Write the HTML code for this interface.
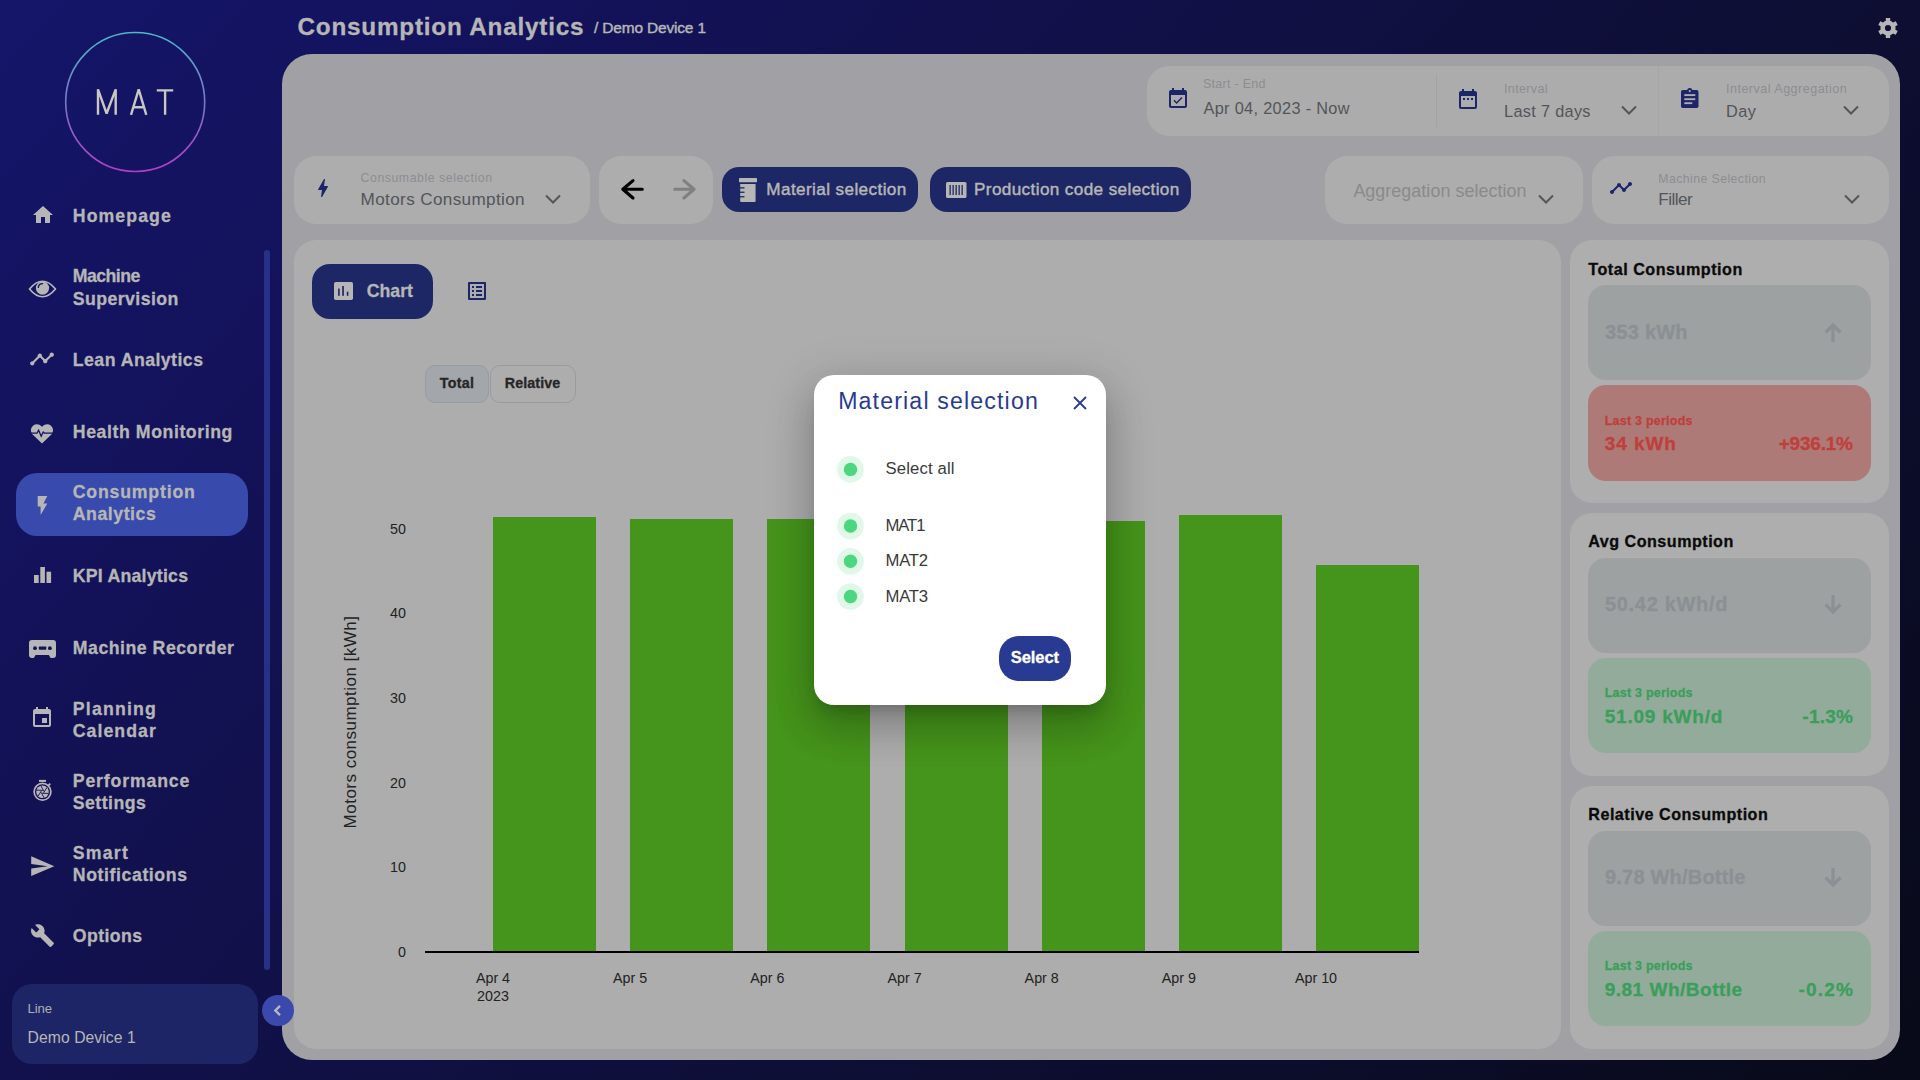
<!DOCTYPE html>
<html><head><meta charset="utf-8">
<style>
*{margin:0;padding:0;box-sizing:border-box}
html,body{width:1920px;height:1080px;overflow:hidden}
body{position:relative;font-family:"Liberation Sans",sans-serif;
 background:linear-gradient(131.7deg,#15156a 0%,#13125a 20%,#12114e 33%,#0d0e31 67%,#0b0c27 82%,#080a18 100%);}
.a{position:absolute}
.t{position:absolute;white-space:pre;line-height:1;font-family:"Liberation Sans",sans-serif}
svg{position:absolute;overflow:visible}
.box{position:absolute;background:#adadad;border-radius:22px}
.btn{position:absolute;background:#1e2765;border-radius:17px}
.card{position:absolute;background:#aeaeae;border-radius:22px}
.gbox{position:absolute;background:#9da1a2;border-radius:18px;left:1588px;width:283px;height:95px}
.rbox{position:absolute;background:#ad7a78;border-radius:18px;left:1588px;width:283px;height:96px}
.grbox{position:absolute;background:#93ab9b;border-radius:18px;left:1588px;width:283px;height:95px}
.bar{position:absolute;background:#45941b;width:103px;bottom:128px}
</style></head><body>

<!-- sidebar logo -->
<svg class="a" style="left:0;top:0" width="270" height="180">
 <defs><linearGradient id="lg" x1="0" y1="0" x2="0" y2="1">
  <stop offset="0" stop-color="#4cb8c8"/><stop offset="0.5" stop-color="#7a78c6"/><stop offset="1" stop-color="#b63cc6"/></linearGradient></defs>
 <circle cx="135.2" cy="102" r="69.5" fill="none" stroke="url(#lg)" stroke-width="1.6"/>
 <g fill="none" stroke="#c8c7c0" stroke-width="2.4" stroke-linejoin="bevel">
  <path d="M98 114.8V89.3L106.6 113.5L115.7 89.3V114.8"/>
  <path d="M131 114.8L138.7 89.3L146.3 114.8M134 107.2H143.5"/>
  <path d="M156.8 90.4H173.2M165.1 90.4V114.8"/>
 </g>
</svg>

<!-- active nav pill -->
<div class="a" style="left:16px;top:473px;width:232px;height:63px;border-radius:21px;background:#384aab"></div>
<!-- scrollbar -->
<div class="a" style="left:264px;top:250px;width:6px;height:720px;border-radius:3px;background:#283088"></div>

<!-- nav icons -->
<svg style="left:30.500px;top:202.500px" width="24" height="24" viewBox="0 0 24 24"><path fill="#b6b6b6" d="M10 20v-6h4v6h5v-8h3L12 3 2 12h3v8z"/></svg>
<svg style="left:24px;top:270px" width="40" height="40" viewBox="0 0 40 40"><path fill="none" stroke="#b6b6b6" stroke-width="1.700" stroke-linejoin="round" d="M5.500 19Q18.500 3.500 31.500 19Q18.500 34.500 5.500 19Z"/><circle cx="18.500" cy="18.100" r="6.600" fill="#b6b6b6"/><path fill="none" stroke="#13125c" stroke-width="1.400" stroke-linecap="round" d="M14.300 17.300A4.400 4.400 0 0 1 18.600 13.600"/></svg>
<svg style="left:29px;top:346px" width="26" height="26" viewBox="0 0 24 24"><path fill="#b6b6b6" d="M23 8c0 1.1-.9 2-2 2-.18 0-.35-.02-.51-.07l-3.560 3.550c.05.16.07.34.07.52 0 1.1-.9 2-2 2s-2-.9-2-2c0-.18.02-.36.07-.52l-2.550-2.550c-.16.05-.34.07-.52.07s-.36-.02-.52-.07l-4.550 4.560c.05.16.07.33.07.51 0 1.1-.9 2-2 2s-2-.9-2-2 .9-2 2-2c.18 0 .35.02.51.07l4.560-4.550C8.02 9.36 8 9.18 8 9c0-1.1.9-2 2-2s2 .9 2 2c0 .18-.02.36-.07.52l2.550 2.550c.16-.05.34-.07.52-.07s.36.02.52.07l3.550-3.560C19.02 8.350 19 8.180 19 8c0-1.1.9-2 2-2s2 .9 2 2z"/></svg>
<svg style="left:30px;top:421px" width="24" height="24" viewBox="0 0 24 24"><path fill="#b6b6b6" d="M12 22.5L2.6 13.4C0.2 11 0.5 6.6 3.3 4.5 5.8 2.6 9.400 3.100 12 5.800 14.600 3.100 18.200 2.600 20.700 4.500 23.500 6.600 23.800 11 21.400 13.400z"/><path fill="none" stroke="#13125c" stroke-width="1.3" d="M0.8 12.2h6.2l1.6-3 2.600 6 2-4.200 1.200 1.200h9"/></svg>
<svg style="left:30.500px;top:492.500px" width="23" height="25" viewBox="0 0 24 24"><path fill="#b6b6b6" d="M7 2v11h3v9l7-12h-4l4-8z"/></svg>
<svg style="left:0;top:0" width="60" height="600" viewBox="0 0 60 600"><rect x="34" y="575" width="4.700" height="8" fill="#b6b6b6"/><rect x="40.300" y="567" width="4.600" height="16" fill="#b6b6b6"/><rect x="46.500" y="571.700" width="4.600" height="11.300" fill="#b6b6b6"/></svg>
<svg style="left:29px;top:640px" width="27" height="18" viewBox="0 0 27 18"><path fill="#b6b6b6" d="M3 0h21a3 3 0 0 1 3 3v12a3 3 0 0 1-3 3h-2.400l-1.800-2.900H6.600l-1.800 2.900H3a3 3 0 0 1-3-3V3a3 3 0 0 1 3-3z"/><rect x="9.800" y="6.500" width="7.500" height="3.300" rx="0.800" fill="#13125c"/><circle cx="6" cy="8.200" r="1.900" fill="#13125c"/><circle cx="20.900" cy="8.200" r="1.900" fill="#13125c"/></svg>
<svg style="left:30px;top:706px" width="24" height="24" viewBox="0 0 24 24"><path fill="#b6b6b6" d="M17 12h-5v5h5v-5zM16 1v2H8V1H6v2H5c-1.110 0-1.990.9-1.990 2L3 19c0 1.1.89 2 2 2h14c1.1 0 2-.9 2-2V5c0-1.1-.9-2-2-2h-1V1h-2zm3 18H5V8h14v11z"/></svg>
<svg style="left:28px;top:774px" width="30" height="32" viewBox="0 0 30 32"><rect x="11" y="5.900" width="7" height="2" fill="#b6b6b6"/><circle cx="14.5" cy="17.8" r="8.400" fill="none" stroke="#b6b6b6" stroke-width="1.700"/><line x1="20.300" y1="11.600" x2="22.300" y2="9.600" stroke="#b6b6b6" stroke-width="1.800"/><circle cx="14.5" cy="17.8" r="6.300" fill="#b6b6b6"/><path d="M20.68 19.46L14.11 19.25M16.16 23.98L13.05 18.19M9.97 22.33L13.44 16.74M8.32 16.14L14.89 16.35M12.84 11.62L15.95 17.41M19.03 13.27L15.56 18.86" stroke="#13125c" stroke-width="0.9" fill="none"/></svg>
<svg style="left:28.800px;top:852.700px" width="26.400" height="26.400" viewBox="0 0 24 24"><path fill="#b6b6b6" d="M2.010 21L23 12 2.010 3 2 10l15 2-15 2z"/></svg>
<svg style="left:30px;top:923px" width="25" height="25" viewBox="0 0 24 24"><path fill="#b6b6b6" d="M22.700 19l-9.100-9.100c.9-2.300.4-5-1.500-6.900-2-2-5-2.400-7.400-1.300L9 6 6 9 1.600 4.700C.4 7.100.9 10.100 2.900 12.100c1.900 1.900 4.600 2.400 6.900 1.500l9.100 9.100c.4.4 1 .4 1.400 0l2.300-2.300c.5-.4.5-1.100.1-1.400z"/></svg>

<!-- line box -->
<div class="a" style="left:12px;top:984px;width:246px;height:80px;border-radius:20px;background:#1e2566"></div>


<!-- gear -->
<svg style="left:1876px;top:15.800px" width="24" height="24" viewBox="0 0 24 24"><g fill="#b6b6b6"><circle cx="12" cy="12" r="7.600"/><rect x="9.800" y="2" width="4.400" height="20" rx="0.6"/><rect x="9.800" y="2" width="4.400" height="20" rx="0.6" transform="rotate(60 12 12)"/><rect x="9.800" y="2" width="4.400" height="20" rx="0.6" transform="rotate(120 12 12)"/></g><circle cx="12" cy="12" r="3.100" fill="#0e1036"/></svg>

<!-- main panel -->
<div class="a" style="left:282px;top:54px;width:1618px;height:1006px;border-radius:30px;background:#a0a0a5"></div>

<div class="a" style="left:262px;top:995px;width:31.5px;height:31px;border-radius:50%;background:#3b49ad"></div>
<svg style="left:269.500px;top:1002px" width="16" height="17" viewBox="0 0 24 24"><path fill="none" stroke="#b8b8b8" stroke-width="3.600" d="M15 5l-7 7 7 7"/></svg>
<!-- date bar -->
<div class="box" style="left:1147px;top:66px;width:741.500px;height:69.500px;border-radius:22px;background:#acacac"></div>
<div class="a" style="left:1436px;top:74px;width:1px;height:53px;background:#a3a3a3"></div>
<div class="a" style="left:1658px;top:66px;width:1px;height:69.5px;background:#a5a5a5"></div>
<svg style="left:1166px;top:87px" width="24" height="24" viewBox="0 0 24 24"><path fill="#1c2567" d="M16.530 11.060L15.470 10l-4.880 4.880-2.120-2.120-1.060 1.060L10.590 17l5.940-5.940zM19 3h-1V1h-2v2H8V1H6v2H5c-1.110 0-1.990.9-1.990 2L3 19c0 1.1.89 2 2 2h14c1.1 0 2-.9 2-2V5c0-1.1-.9-2-2-2zm0 16H5V8h14v11z"/></svg>
<svg style="left:1455.500px;top:87px" width="24" height="24" viewBox="0 0 24 24"><path fill="#1c2567" d="M9 11H7v2h2v-2zm4 0h-2v2h2v-2zm4 0h-2v2h2v-2zm2-7h-1V2h-2v2H8V2H6v2H5c-1.110 0-1.990.9-1.990 2L3 20c0 1.1.89 2 2 2h14c1.1 0 2-.9 2-2V6c0-1.1-.9-2-2-2zm0 16H5V9h14v11z"/></svg>
<svg style="left:1680.700px;top:87.800px" width="17.500" height="20.200" viewBox="0 0 17.500 20.200"><rect x="0" y="1.900" width="17.500" height="18.200" rx="1.800" fill="#1c2567"/><circle cx="8.750" cy="2.600" r="2.600" fill="#1c2567"/><circle cx="8.750" cy="3.100" r="1.100" fill="#acacac"/><g fill="#acacac"><rect x="3.300" y="6.150" width="11" height="1.900"/><rect x="3.300" y="10.250" width="11" height="1.900"/><rect x="3.300" y="14.250" width="8" height="1.900"/></g></svg>
<svg style="left:1619px;top:102px" width="20" height="16" viewBox="0 0 20 16"><path fill="none" stroke="#555" stroke-width="2" d="M3 4.500l7 7 7-7"/></svg>
<svg style="left:1841px;top:102px" width="20" height="16" viewBox="0 0 20 16"><path fill="none" stroke="#555" stroke-width="2" d="M3 4.500l7 7 7-7"/></svg>

<!-- filter row -->
<div class="box" style="left:294px;top:156px;width:296px;height:68px"></div>
<svg style="left:311.200px;top:176.400px" width="24" height="24" viewBox="0 0 24 24"><path fill="#1c2567" d="M11 21h-1l1-7H7.500c-.58 0-.57-.32-.38-.66.19-.34.05-.08.07-.12C8.480 10.940 10.420 7.540 13 3h1l-1 7h3.500c.49 0 .56.33.47.51l-.07.15C12.960 17.550 11 21 11 21z"/></svg>
<svg style="left:543px;top:191px" width="20" height="16" viewBox="0 0 20 16"><path fill="none" stroke="#555" stroke-width="2" d="M3 4.500l7 7 7-7"/></svg>
<div class="box" style="left:599px;top:156px;width:114px;height:67.500px"></div>

<svg style="left:599px;top:156px" width="114" height="68" viewBox="0 0 114 68"><g fill="none" stroke-width="3.100" stroke-linecap="round" stroke-linejoin="round"><path stroke="#000" d="M43.300 33.300H24M34 24.600L23.800 33.300L34 42"/><path stroke="#808080" d="M75.800 33.300H95M84.900 24.600L95.100 33.300L84.900 42"/></g></svg>
<div class="btn" style="left:722px;top:167px;width:196px;height:45px"></div>
<svg style="left:739px;top:178px" width="18" height="24" viewBox="0 0 18 24"><rect x="0" y="0" width="18" height="4.200" rx="0.600" fill="#b6b6b6"/><path fill="#b6b6b6" d="M1.200 6H16.600V23a1 1 0 0 1-1 1H2.200a1 1 0 0 1-1-1z"/><g fill="#1e2765"><rect x="1" y="9.200" width="4.500" height="1.300"/><rect x="1" y="13.600" width="4.500" height="1.300"/><rect x="1" y="18.100" width="4.500" height="1.300"/></g></svg>
<div class="btn" style="left:930px;top:167px;width:261px;height:45px"></div>
<svg style="left:945.500px;top:182px" width="20.500" height="16" viewBox="0 0 20.500 16"><rect x="0" y="0" width="20.500" height="16" rx="1.500" fill="#b6b6b6"/><g fill="#1e2765"><rect x="3.500" y="3" width="1.300" height="10"/><rect x="6.500" y="3" width="1.300" height="10"/><rect x="9.500" y="3" width="1.300" height="10"/><rect x="12.500" y="3" width="1.300" height="10"/><rect x="15.500" y="3" width="1.300" height="10"/></g></svg>
<div class="box" style="left:1325px;top:156px;width:258px;height:68px"></div>
<svg style="left:1536px;top:191px" width="20" height="16" viewBox="0 0 20 16"><path fill="none" stroke="#555" stroke-width="2" d="M3 4.500l7 7 7-7"/></svg>
<div class="box" style="left:1592px;top:156px;width:297px;height:68px"></div>
<svg style="left:1609px;top:176px" width="24" height="24" viewBox="0 0 24 24"><path fill="#1c2567" d="M23 8c0 1.1-.9 2-2 2-.18 0-.35-.02-.51-.07l-3.560 3.550c.05.16.07.34.07.52 0 1.1-.9 2-2 2s-2-.9-2-2c0-.18.02-.36.07-.52l-2.550-2.550c-.16.05-.34.07-.52.07s-.36-.02-.52-.07l-4.550 4.560c.05.16.07.33.07.51 0 1.1-.9 2-2 2s-2-.9-2-2 .9-2 2-2c.18 0 .35.02.51.07l4.560-4.550C8.02 9.36 8 9.18 8 9c0-1.1.9-2 2-2s2 .9 2 2c0 .18-.02.36-.07.52l2.550 2.550c.16-.05.34-.07.52-.07s.36.02.52.07l3.550-3.560C19.02 8.350 19 8.180 19 8c0-1.1.9-2 2-2s2 .9 2 2z"/></svg>
<svg style="left:1842px;top:191px" width="20" height="16" viewBox="0 0 20 16"><path fill="none" stroke="#555" stroke-width="2" d="M3 4.500l7 7 7-7"/></svg>

<!-- chart card -->
<div class="box" style="left:294px;top:240px;width:1266.500px;height:808.500px"></div>
<div class="btn" style="left:312px;top:264px;width:121px;height:55px;border-radius:18px;background:#1e2765"></div>
<svg style="left:334px;top:282px" width="19" height="18" viewBox="0 0 19 18"><rect x="0" y="0" width="19" height="18" rx="1.800" fill="#b6b6b6"/><g fill="#1e2765"><rect x="4.100" y="6.600" width="1.600" height="7.200"/><rect x="8.200" y="4" width="1.700" height="9.800"/><rect x="12.800" y="9.700" width="1.600" height="4.100"/></g></svg>
<svg style="left:465px;top:279px" width="24" height="24" viewBox="0 0 24 24"><path fill="#1c2567" d="M19 5v14H5V5h14m1.1-2H3.9c-.5 0-.9.4-.9.9v16.2c0 .4.4.9.9.9h16.2c.4 0 .9-.5.9-.9V3.9c0-.5-.5-.9-.9-.9zM11 7h6v2h-6V7zm0 4h6v2h-6v-2zm0 4h6v2h-6zM7 7h2v2H7zm0 4h2v2H7zm0 4h2v2H7z"/></svg>
<div class="a" style="left:425px;top:365px;width:64px;height:38px;border-radius:10px;background:#a3a7ac;border:1px solid #979ba3"></div>
<div class="a" style="left:490px;top:365px;width:86px;height:38px;border-radius:10px;border:1px solid #999ba3"></div>

<!-- y axis label -->
<div class="t" style="left:350px;top:722px;transform:translate(-50%,-50%) rotate(-90deg);font-size:17px;color:#222;letter-spacing:0.48px">Motors consumption [kWh]</div>

<!-- bars -->
<div class="bar" style="left:493px;top:517px"></div>
<div class="bar" style="left:630.2px;top:519px"></div>
<div class="bar" style="left:767.3px;top:519.3px"></div>
<div class="bar" style="left:904.5px;top:520px"></div>
<div class="bar" style="left:1041.7px;top:521px"></div>
<div class="bar" style="left:1178.8px;top:515px"></div>
<div class="bar" style="left:1316px;top:564.5px"></div>
<div class="a" style="left:425px;top:951px;width:994px;height:2px;background:#000"></div>

<!-- right cards -->
<div class="card" style="left:1570px;top:240px;width:319px;height:262.500px"></div>
<div class="gbox" style="top:285px"></div>
<div class="rbox" style="top:385px"></div>
<div class="card" style="left:1570px;top:512.500px;width:319px;height:263px"></div>
<div class="gbox" style="top:557.500px"></div>
<div class="grbox" style="top:658px"></div>
<div class="card" style="left:1570px;top:785.500px;width:319px;height:263px"></div>
<div class="gbox" style="top:830.500px"></div>
<div class="grbox" style="top:931px"></div>
<svg style="left:1821px;top:320px" width="24" height="24" viewBox="0 0 24 24"><path fill="none" stroke="#8a9093" stroke-width="3.200" d="M12 22V5M4.500 12.500L12 5l7.500 7.500"/></svg>
<svg style="left:1821px;top:593px" width="24" height="24" viewBox="0 0 24 24"><path fill="none" stroke="#8a9093" stroke-width="3.200" d="M12 2v17M4.500 11.500L12 19l7.500-7.500"/></svg>
<svg style="left:1821px;top:866px" width="24" height="24" viewBox="0 0 24 24"><path fill="none" stroke="#8a9093" stroke-width="3.200" d="M12 2v17M4.500 11.500L12 19l7.500-7.500"/></svg>

<!-- modal -->
<div class="a" style="left:814px;top:375px;width:292px;height:330px;border-radius:20px;background:#fff;box-shadow:0 11px 15px -7px rgba(0,0,0,.2),0 24px 38px 3px rgba(0,0,0,.14),0 9px 46px 8px rgba(0,0,0,.12)"></div>
<svg style="left:1071px;top:394px" width="18" height="18" viewBox="0 0 18 18"><path stroke="#293a92" stroke-width="1.800" d="M3 3l12 12M15 3L3 15"/></svg>
<svg style="left:836px;top:455px" width="29" height="160" viewBox="0 0 29 160">
 <g><circle cx="14.500" cy="14.400" r="13.300" fill="#dff8e7"/><circle cx="14.500" cy="14.400" r="6.700" fill="#4cd680"/></g>
 <g transform="translate(0 71)"><circle cx="14.500" cy="0" r="13.300" fill="#dff8e7"/><circle cx="14.500" cy="0" r="6.700" fill="#4cd680"/></g>
 <g transform="translate(0 106.300)"><circle cx="14.500" cy="0" r="13.300" fill="#dff8e7"/><circle cx="14.500" cy="0" r="6.700" fill="#4cd680"/></g>
 <g transform="translate(0 141.500)"><circle cx="14.500" cy="0" r="13.300" fill="#dff8e7"/><circle cx="14.500" cy="0" r="6.700" fill="#4cd680"/></g>
</svg>
<div class="a" style="left:999px;top:636px;width:72px;height:45px;border-radius:20px;background:#293a92"></div>

<div class=t style="top:15.04px;font-size:24.29px;font-weight:700;color:#b6b6b6;letter-spacing:0.787px;-webkit-text-stroke:0.3px currentColor;left:297.50px;">Consumption Analytics</div>
<div class=t style="top:20.44px;font-size:15.43px;font-weight:400;color:#b6b6b6;letter-spacing:-0.143px;-webkit-text-stroke:0.45px currentColor;left:594.00px;">/ Demo Device 1</div>
<div class=t style="top:208.11px;font-size:17.71px;font-weight:700;color:#b6b6b6;letter-spacing:1.080px;-webkit-text-stroke:0.3px currentColor;left:72.80px;">Homepage</div>
<div class=t style="top:268.31px;font-size:17.71px;font-weight:700;color:#b6b6b6;letter-spacing:-0.547px;-webkit-text-stroke:0.3px currentColor;left:72.80px;">Machine</div>
<div class=t style="top:290.51px;font-size:17.71px;font-weight:700;color:#b6b6b6;letter-spacing:0.425px;-webkit-text-stroke:0.3px currentColor;left:72.80px;">Supervision</div>
<div class=t style="top:351.61px;font-size:17.71px;font-weight:700;color:#b6b6b6;letter-spacing:0.462px;-webkit-text-stroke:0.3px currentColor;left:72.80px;">Lean Analytics</div>
<div class=t style="top:423.61px;font-size:17.71px;font-weight:700;color:#b6b6b6;letter-spacing:0.579px;-webkit-text-stroke:0.3px currentColor;left:72.80px;">Health Monitoring</div>
<div class=t style="top:483.61px;font-size:17.71px;font-weight:700;color:#b6b6b6;letter-spacing:0.803px;-webkit-text-stroke:0.3px currentColor;left:72.80px;">Consumption</div>
<div class=t style="top:505.81px;font-size:17.71px;font-weight:700;color:#b6b6b6;letter-spacing:0.543px;-webkit-text-stroke:0.3px currentColor;left:72.80px;">Analytics</div>
<div class=t style="top:567.51px;font-size:17.71px;font-weight:700;color:#b6b6b6;letter-spacing:0.234px;-webkit-text-stroke:0.3px currentColor;left:72.80px;">KPI Analytics</div>
<div class=t style="top:640.11px;font-size:17.71px;font-weight:700;color:#b6b6b6;letter-spacing:0.517px;-webkit-text-stroke:0.3px currentColor;left:72.80px;">Machine Recorder</div>
<div class=t style="top:701.21px;font-size:17.71px;font-weight:700;color:#b6b6b6;letter-spacing:1.188px;-webkit-text-stroke:0.3px currentColor;left:72.80px;">Planning</div>
<div class=t style="top:723.41px;font-size:17.71px;font-weight:700;color:#b6b6b6;letter-spacing:1.042px;-webkit-text-stroke:0.3px currentColor;left:72.80px;">Calendar</div>
<div class=t style="top:772.61px;font-size:17.71px;font-weight:700;color:#b6b6b6;letter-spacing:0.836px;-webkit-text-stroke:0.3px currentColor;left:72.80px;">Performance</div>
<div class=t style="top:794.81px;font-size:17.71px;font-weight:700;color:#b6b6b6;letter-spacing:0.460px;-webkit-text-stroke:0.3px currentColor;left:72.80px;">Settings</div>
<div class=t style="top:844.81px;font-size:17.71px;font-weight:700;color:#b6b6b6;letter-spacing:1.215px;-webkit-text-stroke:0.3px currentColor;left:72.80px;">Smart</div>
<div class=t style="top:867.01px;font-size:17.71px;font-weight:700;color:#b6b6b6;letter-spacing:0.590px;-webkit-text-stroke:0.3px currentColor;left:72.80px;">Notifications</div>
<div class=t style="top:928.01px;font-size:17.71px;font-weight:700;color:#b6b6b6;letter-spacing:0.398px;-webkit-text-stroke:0.3px currentColor;left:72.80px;">Options</div>
<div class=t style="top:1002.08px;font-size:13.14px;font-weight:400;color:#b0b0b4;letter-spacing:-0.109px;left:27.50px;">Line</div>
<div class=t style="top:1030.30px;font-size:15.71px;font-weight:400;color:#b6b6b8;letter-spacing:0.078px;left:27.50px;">Demo Device 1</div>
<div class=t style="top:78.26px;font-size:12.57px;font-weight:400;color:#8c8d92;letter-spacing:0.245px;left:1203.00px;">Start - End</div>
<div class=t style="top:99.81px;font-size:16.29px;font-weight:400;color:#53555a;letter-spacing:0.336px;left:1203.50px;">Apr 04, 2023 - Now</div>
<div class=t style="top:83.46px;font-size:12.57px;font-weight:400;color:#8c8d92;letter-spacing:0.328px;left:1504.00px;">Interval</div>
<div class=t style="top:103.11px;font-size:16.29px;font-weight:400;color:#53555a;letter-spacing:0.322px;left:1504.00px;">Last 7 days</div>
<div class=t style="top:83.46px;font-size:12.57px;font-weight:400;color:#8c8d92;letter-spacing:0.476px;left:1726.00px;">Interval Aggregation</div>
<div class=t style="top:103.11px;font-size:16.29px;font-weight:400;color:#53555a;letter-spacing:0.516px;left:1726.00px;">Day</div>
<div class=t style="top:172.20px;font-size:12.29px;font-weight:400;color:#8c8d92;letter-spacing:0.556px;left:360.60px;">Consumable selection</div>
<div class=t style="top:190.69px;font-size:17.14px;font-weight:400;color:#53555a;letter-spacing:0.353px;left:360.60px;">Motors Consumption</div>
<div class=t style="top:181.49px;font-size:17.14px;font-weight:400;color:#b6b6b6;letter-spacing:0.396px;-webkit-text-stroke:0.45px currentColor;left:766.30px;">Material selection</div>
<div class=t style="top:181.49px;font-size:17.14px;font-weight:400;color:#b6b6b6;letter-spacing:0.382px;-webkit-text-stroke:0.45px currentColor;left:974.00px;">Production code selection</div>
<div class=t style="top:182.68px;font-size:17.86px;font-weight:400;color:#8a8a8a;letter-spacing:0.061px;left:1353.40px;">Aggregation selection</div>
<div class=t style="top:172.70px;font-size:12.29px;font-weight:400;color:#8c8d92;letter-spacing:0.428px;left:1658.30px;">Machine Selection</div>
<div class=t style="top:191.09px;font-size:17.14px;font-weight:400;color:#53555a;letter-spacing:-0.522px;left:1658.30px;">Filler</div>
<div class=t style="top:283.01px;font-size:17.71px;font-weight:700;color:#b6b6b6;letter-spacing:-0.001px;-webkit-text-stroke:0.3px currentColor;left:366.80px;">Chart</div>
<div class=t style="top:376.00px;font-size:14.29px;font-weight:700;color:#262626;letter-spacing:0.309px;-webkit-text-stroke:0.3px currentColor;left:439.80px;">Total</div>
<div class=t style="top:376.00px;font-size:14.29px;font-weight:700;color:#262626;letter-spacing:0.088px;-webkit-text-stroke:0.3px currentColor;left:504.80px;">Relative</div>
<div class=t style="top:521.50px;font-size:14.29px;font-weight:400;color:#222;right:1514.00px;">50</div>
<div class=t style="top:606.24px;font-size:14.29px;font-weight:400;color:#222;right:1514.00px;">40</div>
<div class=t style="top:690.98px;font-size:14.29px;font-weight:400;color:#222;right:1514.00px;">30</div>
<div class=t style="top:775.72px;font-size:14.29px;font-weight:400;color:#222;right:1514.00px;">20</div>
<div class=t style="top:860.46px;font-size:14.29px;font-weight:400;color:#222;right:1514.00px;">10</div>
<div class=t style="top:945.20px;font-size:14.29px;font-weight:400;color:#222;right:1514.00px;">0</div>
<div class=t style="top:971.30px;font-size:14.29px;font-weight:400;color:#222;left:475.93px;">Apr 4</div>
<div class=t style="top:971.30px;font-size:14.29px;font-weight:400;color:#222;left:613.10px;">Apr 5</div>
<div class=t style="top:971.30px;font-size:14.29px;font-weight:400;color:#222;left:750.27px;">Apr 6</div>
<div class=t style="top:971.30px;font-size:14.29px;font-weight:400;color:#222;left:887.44px;">Apr 7</div>
<div class=t style="top:971.30px;font-size:14.29px;font-weight:400;color:#222;left:1024.61px;">Apr 8</div>
<div class=t style="top:971.30px;font-size:14.29px;font-weight:400;color:#222;left:1161.78px;">Apr 9</div>
<div class=t style="top:971.30px;font-size:14.29px;font-weight:400;color:#222;left:1294.98px;">Apr 10</div>
<div class=t style="top:989.30px;font-size:14.29px;font-weight:400;color:#222;left:477.11px;">2023</div>
<div class=t style="top:260.94px;font-size:16.14px;font-weight:700;color:#0a0a0a;letter-spacing:0.519px;-webkit-text-stroke:0.3px currentColor;left:1588.30px;">Total Consumption</div>
<div class=t style="top:321.67px;font-size:20.00px;font-weight:700;color:#8a9093;letter-spacing:0.241px;-webkit-text-stroke:0.3px currentColor;left:1605.00px;">353 kWh</div>
<div class=t style="top:414.78px;font-size:12.43px;font-weight:700;color:#bf3f3d;letter-spacing:0.275px;-webkit-text-stroke:0.3px currentColor;left:1604.70px;">Last 3 periods</div>
<div class=t style="top:434.32px;font-size:19.00px;font-weight:700;color:#bf3f3d;letter-spacing:0.954px;-webkit-text-stroke:0.3px currentColor;left:1604.70px;">34 kWh</div>
<div class=t style="top:434.32px;font-size:19.00px;font-weight:700;color:#bf3f3d;letter-spacing:-0.208px;-webkit-text-stroke:0.3px currentColor;right:67.21px;">+936.1%</div>
<div class=t style="top:533.44px;font-size:16.14px;font-weight:700;color:#0a0a0a;letter-spacing:0.482px;-webkit-text-stroke:0.3px currentColor;left:1588.30px;">Avg Consumption</div>
<div class=t style="top:594.17px;font-size:20.00px;font-weight:700;color:#8a9093;letter-spacing:0.689px;-webkit-text-stroke:0.3px currentColor;left:1605.00px;">50.42 kWh/d</div>
<div class=t style="top:687.28px;font-size:12.43px;font-weight:700;color:#3b9e5b;letter-spacing:0.275px;-webkit-text-stroke:0.3px currentColor;left:1604.70px;">Last 3 periods</div>
<div class=t style="top:706.82px;font-size:19.00px;font-weight:700;color:#3b9e5b;letter-spacing:0.787px;-webkit-text-stroke:0.3px currentColor;left:1604.70px;">51.09 kWh/d</div>
<div class=t style="top:706.82px;font-size:19.00px;font-weight:700;color:#3b9e5b;letter-spacing:0.265px;-webkit-text-stroke:0.3px currentColor;right:66.74px;">-1.3%</div>
<div class=t style="top:806.44px;font-size:16.14px;font-weight:700;color:#0a0a0a;letter-spacing:0.488px;-webkit-text-stroke:0.3px currentColor;left:1588.30px;">Relative Consumption</div>
<div class=t style="top:867.17px;font-size:20.00px;font-weight:700;color:#8a9093;letter-spacing:0.208px;-webkit-text-stroke:0.3px currentColor;left:1605.00px;">9.78 Wh/Bottle</div>
<div class=t style="top:960.28px;font-size:12.43px;font-weight:700;color:#3b9e5b;letter-spacing:0.275px;-webkit-text-stroke:0.3px currentColor;left:1604.70px;">Last 3 periods</div>
<div class=t style="top:979.82px;font-size:19.00px;font-weight:700;color:#3b9e5b;letter-spacing:0.507px;-webkit-text-stroke:0.3px currentColor;left:1604.70px;">9.81 Wh/Bottle</div>
<div class=t style="top:979.82px;font-size:19.00px;font-weight:700;color:#3b9e5b;letter-spacing:1.215px;-webkit-text-stroke:0.3px currentColor;right:65.79px;">-0.2%</div>
<div class=t style="top:390.01px;font-size:23.14px;font-weight:400;color:#293a92;letter-spacing:1.156px;left:838.20px;">Material selection</div>
<div class=t style="top:460.85px;font-size:16.71px;font-weight:400;color:#3a3a3a;letter-spacing:0.142px;left:885.50px;">Select all</div>
<div class=t style="top:518.05px;font-size:16.71px;font-weight:400;color:#3a3a3a;letter-spacing:-1.094px;left:885.50px;">MAT1</div>
<div class=t style="top:553.35px;font-size:16.71px;font-weight:400;color:#3a3a3a;letter-spacing:-0.260px;left:885.50px;">MAT2</div>
<div class=t style="top:588.65px;font-size:16.71px;font-weight:400;color:#3a3a3a;letter-spacing:-0.260px;left:885.50px;">MAT3</div>
<div class=t style="top:649.57px;font-size:16.57px;font-weight:700;color:#ffffff;letter-spacing:-0.122px;-webkit-text-stroke:0.3px currentColor;left:1010.80px;">Select</div>

</body></html>
